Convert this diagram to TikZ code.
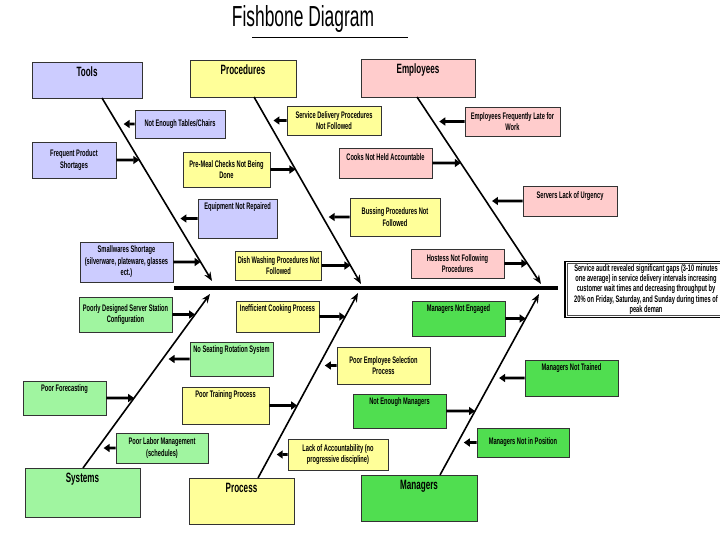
\documentclass[tikz,border=0pt]{standalone}
\usepackage{fontspec}
\setmainfont{Liberation Sans}[FakeStretch=0.6]
\usetikzlibrary{arrows.meta}

\definecolor{toolblue}{RGB}{204,204,255}
\definecolor{procyellow}{RGB}{255,255,153}
\definecolor{emppink}{RGB}{255,204,204}
\definecolor{sysgreen}{RGB}{160,245,160}
\definecolor{mgrgreen}{RGB}{80,222,80}

\tikzset{
  box/.style={draw=black!80, line width=0.7pt, align=center, inner xsep=2pt, inner ysep=4pt,
    font=\bfseries\fontsize{9.5}{11.5}\selectfont},
  category/.style={box, inner ysep=5pt, font=\bfseries\fontsize{13.5}{15}\selectfont},
  lifttext/.style={text depth=#1},
  bone/.style={line width=1.6pt, -{Stealth[length=9pt,width=7pt]}},
  cause/.style={line width=2.6pt, -{Triangle[length=6pt,width=8pt]}},
  causeleft/.style={cause, shorten >=6pt},
}

\begin{document}
\begin{tikzpicture}[x=1pt,y=-1pt]
    \useasboundingbox (0,0) rectangle (720,540);

    % Title
    \node[font=\fontsize{29}{32}\selectfont] (title) at (303,19) {Fishbone Diagram};
    \draw[line width=0.6pt] (252,37) -- (408,37);

    % Categories
    \node[category, fill=toolblue, minimum width=110pt, minimum height=36pt, lifttext=16pt] (tools) at (87,80) {Tools};
    \node[category, fill=procyellow, minimum width=106pt, minimum height=37pt, lifttext=17pt] (procedures) at (243,78.5) {Procedures};
    \node[category, fill=emppink, minimum width=114pt, minimum height=38pt, lifttext=18pt] (employees) at (418,78) {Employees};
    \node[category, fill=sysgreen, minimum width=115pt, minimum height=49pt, lifttext=29pt] (systems) at (82.5,492.5) {Systems};
    \node[category, fill=procyellow, minimum width=105pt, minimum height=46pt, lifttext=26pt] (process) at (241.5,501) {Process};
    \node[category, fill=mgrgreen, minimum width=116pt, minimum height=46pt, lifttext=26pt] (managers) at (419,498) {Managers};

    % Effect (box runs off the right edge)
    \node[align=center, minimum width=162pt, minimum height=55pt, inner xsep=1pt, inner ysep=3pt,
      font=\bfseries\fontsize{9.5}{10.2}\selectfont] (effect) at (646,289.5)
      {Service audit revealed significant gaps (3-10 minutes\\ one average) in service delivery intervals increasing\\ customer wait times and decreasing throughput by\\ 20\% on Friday, Saturday, and Sunday during times of\\ peak deman};
    \draw[line width=1.4pt] (effect.north west) rectangle ([xshift=20pt]effect.south east);
    \draw[line width=0.5pt, black!70] ([shift={(2.2pt,-2.2pt)}]effect.north west) rectangle ([shift={(20pt,2.2pt)}]effect.south east);

    % Spine and bones
    \coordinate (spineL) at (174,288);
    \coordinate (spineR) at (558,288);
    \draw[line width=4pt] (spineL) -- (spineR);

    \coordinate (toolsTop) at (102,98);
    \coordinate (toolsHead) at (212,281);
    \coordinate (procTop) at (254,97);
    \coordinate (procHead) at (361,284);
    \coordinate (empTop) at (417,97);
    \coordinate (empHead) at (541,284);
    \coordinate (sysBottom) at (83,468);
    \coordinate (sysHead) at (210,294);
    \coordinate (processBottom) at (258,478);
    \coordinate (processHead) at (358,293);
    \coordinate (mgrBottom) at (440,475);
    \coordinate (mgrHead) at (539,294);

    \draw[bone] (toolsTop) -- (toolsHead);
    \draw[bone] (procTop) -- (procHead);
    \draw[bone] (empTop) -- (empHead);
    \draw[bone] (sysBottom) -- (sysHead);
    \draw[bone] (processBottom) -- (processHead);
    \draw[bone] (mgrBottom) -- (mgrHead);

    % Tools causes
    \node[box, fill=toolblue, minimum width=90pt, minimum height=28pt] (tables) at (180,124) {Not Enough Tables/Chairs};
    \node[box, fill=toolblue, minimum width=84pt, minimum height=36pt] (shortages) at (74,160) {Frequent Product\\Shortages};
    \node[box, fill=toolblue, minimum width=79pt, minimum height=39pt, lifttext=24pt] (equipment) at (237.5,218.5) {Equipment Not Repaired};
    \node[box, fill=toolblue, minimum width=93pt, minimum height=40pt, inner ysep=1pt] (smallwares) at (126.5,262) {Smallwares Shortage\\(silverware, plateware, glasses\\ect.)};

    \draw[causeleft] (tables.west) -- (intersection of tables.west--tables.east and toolsTop--toolsHead);
    \draw[cause] (shortages.east) -- (intersection of shortages.west--shortages.east and toolsTop--toolsHead);
    \draw[causeleft] (equipment.west) -- (intersection of equipment.west--equipment.east and toolsTop--toolsHead);
    \draw[cause] (smallwares.east) -- (intersection of smallwares.west--smallwares.east and toolsTop--toolsHead);

    % Procedures causes
    \node[box, fill=procyellow, minimum width=94pt, minimum height=29pt] (servicedel) at (334,120.5) {Service Delivery Procedures\\Not Followed};
    \node[box, fill=procyellow, minimum width=87pt, minimum height=35pt] (premeal) at (226.5,169.5) {Pre-Meal Checks Not Being\\Done};
    \node[box, fill=procyellow, minimum width=90pt, minimum height=38pt] (bussing) at (395,217) {Bussing Procedures Not\\Followed};
    \node[box, fill=procyellow, minimum width=85pt, minimum height=29pt] (dishwash) at (278.5,265.5) {Dish Washing Procedures Not\\Followed};

    \draw[causeleft] (servicedel.west) -- (intersection of servicedel.west--servicedel.east and procTop--procHead);
    \draw[cause] (premeal.east) -- (intersection of premeal.west--premeal.east and procTop--procHead);
    \draw[causeleft] (bussing.west) -- (intersection of bussing.west--bussing.east and procTop--procHead);
    \draw[cause] (dishwash.east) -- (intersection of dishwash.west--dishwash.east and procTop--procHead);

    % Employees causes
    \node[box, fill=emppink, minimum width=95pt, minimum height=29pt] (late) at (512.5,121.5) {Employees Frequently Late for\\Work};
    \node[box, fill=emppink, minimum width=93pt, minimum height=30pt, lifttext=12pt] (cooks) at (385.5,163) {Cooks Not Held Accountable};
    \node[box, fill=emppink, minimum width=94pt, minimum height=30pt, lifttext=12pt] (urgency) at (570,201) {Servers Lack of Urgency};
    \node[box, fill=emppink, minimum width=93pt, minimum height=29pt] (hostess) at (457.5,263.5) {Hostess Not Following\\Procedures};

    \draw[causeleft] (late.west) -- (intersection of late.west--late.east and empTop--empHead);
    \draw[cause] (cooks.east) -- (intersection of cooks.west--cooks.east and empTop--empHead);
    \draw[causeleft] (urgency.west) -- (intersection of urgency.west--urgency.east and empTop--empHead);
    \draw[cause] (hostess.east) -- (intersection of hostess.west--hostess.east and empTop--empHead);

    % Systems causes
    \node[box, fill=sysgreen, minimum width=93pt, minimum height=35pt] (station) at (125.5,314.5) {Poorly Designed Server Station\\Configuration};
    \node[box, fill=sysgreen, minimum width=83pt, minimum height=34pt, lifttext=19pt] (seating) at (231.5,359) {No Seating Rotation System};
    \node[box, fill=sysgreen, minimum width=83pt, minimum height=34pt, lifttext=19pt] (forecasting) at (64.5,398) {Poor Forecasting};
    \node[box, fill=sysgreen, minimum width=92pt, minimum height=30pt] (labor) at (162,448) {Poor Labor Management\\(schedules)};

    \draw[cause] (station.east) -- (intersection of station.west--station.east and sysBottom--sysHead);
    \draw[causeleft] (seating.west) -- (intersection of seating.west--seating.east and sysBottom--sysHead);
    \draw[cause] (forecasting.east) -- (intersection of forecasting.west--forecasting.east and sysBottom--sysHead);
    \draw[causeleft] (labor.west) -- (intersection of labor.west--labor.east and sysBottom--sysHead);

    % Process causes
    \node[box, fill=procyellow, minimum width=83pt, minimum height=31pt, lifttext=16pt] (cooking) at (277.5,316.5) {Inefficient Cooking Process};
    \node[box, fill=procyellow, minimum width=93pt, minimum height=37pt] (selection) at (383.5,365.5) {Poor Employee Selection\\Process};
    \node[box, fill=procyellow, minimum width=87pt, minimum height=37pt, lifttext=22pt] (training) at (225.5,405.5) {Poor Training Process};
    \node[box, fill=procyellow, minimum width=100pt, minimum height=31pt] (accountability) at (338,454.5) {Lack of Accountability (no\\progressive discipline)};

    \draw[cause] (cooking.east) -- (intersection of cooking.west--cooking.east and processBottom--processHead);
    \draw[causeleft] (selection.west) -- (intersection of selection.west--selection.east and processBottom--processHead);
    \draw[cause] (training.east) -- (intersection of training.west--training.east and processBottom--processHead);
    \draw[causeleft] (accountability.west) -- (intersection of accountability.west--accountability.east and processBottom--processHead);

    % Managers causes
    \node[box, fill=mgrgreen, minimum width=93pt, minimum height=35pt, lifttext=20pt] (engaged) at (458.5,318.5) {Managers Not Engaged};
    \node[box, fill=mgrgreen, minimum width=93pt, minimum height=36pt, lifttext=21pt] (trained) at (571.5,378) {Managers Not Trained};
    \node[box, fill=mgrgreen, minimum width=93pt, minimum height=34pt, lifttext=19pt] (enough) at (399.5,411) {Not Enough Managers};
    \node[box, fill=mgrgreen, minimum width=92pt, minimum height=29pt] (position) at (523,442.5) {Managers Not in Position};

    \draw[cause] (engaged.east) -- (intersection of engaged.west--engaged.east and mgrBottom--mgrHead);
    \draw[causeleft] (trained.west) -- (intersection of trained.west--trained.east and mgrBottom--mgrHead);
    \draw[cause] (enough.east) -- (intersection of enough.west--enough.east and mgrBottom--mgrHead);
    \draw[causeleft] (position.west) -- (intersection of position.west--position.east and mgrBottom--mgrHead);
\end{tikzpicture}
\end{document}
